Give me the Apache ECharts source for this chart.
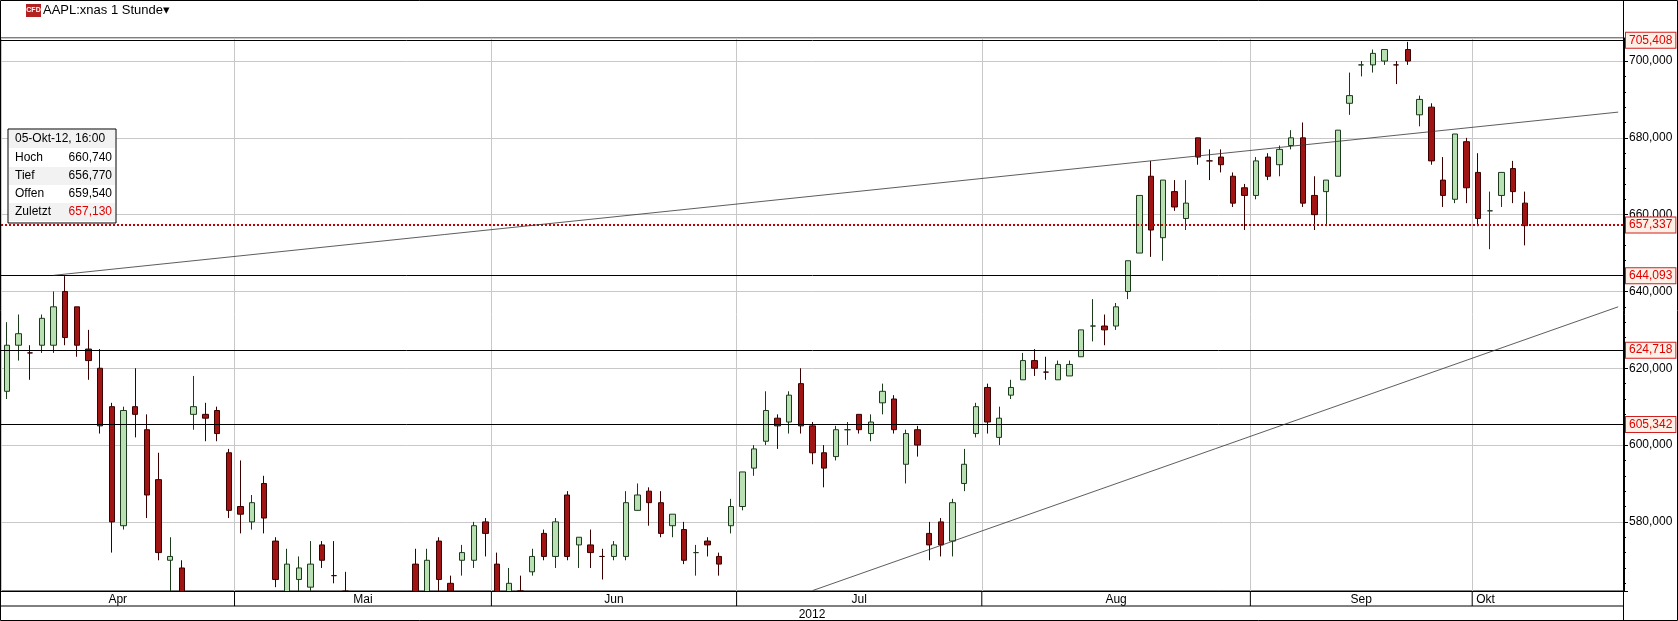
<!DOCTYPE html>
<html>
<head>
<meta charset="utf-8">
<script src="https://cdn.jsdelivr.net/npm/echarts@6/dist/echarts.min.js"></script>
<style>html,body{margin:0;padding:0;background:#fff}#chart{width:1678px;height:621px}</style>
</head>
<body>
<div id="chart"></div>
<script>
// tagesdaten: [open, close, low, high]
var months = ["Apr", "Mai", "Jun", "Jul", "Aug", "Sep", "Okt"];
var monthDays = [20, 22, 21, 21, 23, 19, 5];
var ohlcApr = [[614,626,612,632],[626,629,622,634],[624,624,617,626],[626,633,624,634],[626,636,624,640],
	[640,628,626,644],[636,626,623,636],[625,622,617,630],[620,605,603,625],[610,580,572,611],
	[579,609,578,610],[610,608,602,620],[604,587,581,608],[591,572,570,598],[570,571,556,576],
	[568,560,555,570],[608,610,604,618],[608,607,601,611],[609,603,601,610],[598,583,581,599]];
var ohlcMai = [[584,582,577,596],[580,585,578,587],[590,581,577,592],[575,565,563,576],[561,569,560,573],
	[565,568,555,571],[563,569,557,575],[574,570,568,575],[566,566,564,575],[562,553,552,567],
	[556,553,550,559],[555,546,542,556],[546,530,530,548],[534,530,522,543],[534,561,533,561],
	[569,556,548,573],[557,570,550,573],[575,565,559,576],[564,562,559,566],[570,572,566,574],
	[570,579,568,580],[580,577,571,581]];
var ohlcJun = [[569,560,558,572],[561,564,556,568],[562,562,558,566],[567,571,566,573],[577,571,570,578],
	[571,580,568,581],[587,571,570,588],[574,576,568,576],[574,572,568,578],[571,571,565,573],
	[571,574,570,575],[571,585,570,588],[583,587,583,590],[588,585,579,589],[585,577,576,588],
	[579,582,576,582],[578,570,569,580],[572,572,566,574],[575,574,571,576],[571,569,566,572],
	[579,584,577,586]];
var ohlcJul = [[584,593,583,593],[594,599,592,600],[601,609,600,614],[607,605,599,608],[606,613,603,614],
	[616,605,603,620],[605,598,595,606],[598,594,589,600],[597,604,596,605],[604,604,600,606],
	[608,604,603,608],[603,606,601,608],[611,614,608,616],[612,604,603,613],[595,603,590,604],
	[604,600,597,605],[577,574,570,580],[580,574,571,581],[575,585,571,586],[590,595,588,599],
	[603,610,602,611]];
var ohlcAug = [[615,606,603,616],[602,607,600,610],[613,615,612,617],[617,622,617,624],[622,620,618,625],
	[619,619,617,623],[617,621,617,622],[618,621,618,622],[623,630,623,630],[631,631,627,638],
	[631,630,626,634],[631,636,630,637],[640,648,638,648],[650,665,650,665],[670,656,649,674],
	[654,669,648,669],[666,662,661,669],[659,663,656,669],[680,675,673,680],[674,674,669,677],
	[675,673,671,677],[670,663,662,671],[667,665,656,668]];
var ohlcSep = [[665,674,664,675],[675,670,669,676],[673,677,670,678],[678,680,677,682],[680,663,662,684],
	[665,660,656,670],[666,669,657,669],[670,682,670,682],[689,691,686,697],[699,699,696,700],
	[699,702,697,703],[700,703,699,703],[699,699,694,700],[703,700,699,705],[686,690,683,691],
	[688,674,673,689],[669,665,662,675],[664,681,663,681],[679,667,663,680]];
var ohlcOkt = [[671,659,657,676],[661,661,651,666],[665,671,662,671],[672,666,663,674],[663,657.13,652,666]];
var emptySlots = 8;
var levels = [705.408, 644.093, 624.718, 605.342];
var lastLevel = 657.337;
var trendUpper = [[4.1, 644.2], [138, 686.7]];
var trendLower = [[68.7, 562.1], [138, 636.0]];
var infoRows = [["Hoch", "660,740"], ["Tief", "656,770"], ["Offen", "659,540"], ["Zuletzt", "657,130"]];

var chartPage = {
	monthStartIdx: [],
	fmt: function (v) { return v.toFixed(3).replace('.', ','); },
	build: function () {
		var all = [].concat(ohlcApr, ohlcMai, ohlcJun, ohlcJul, ohlcAug, ohlcSep, ohlcOkt);
		var cats = [], monthStart = {};
		var idx = 0;
		for (var m = 0; m < months.length; m++) {
			monthStart[idx] = true;
			chartPage.monthStartIdx.push(idx);
			for (var d = 0; d < monthDays[m]; d++) { cats.push(String(idx)); idx++; }
		}
		chartPage.monthStartIdx.push(idx);
		for (var e = 0; e < emptySlots; e++) { cats.push(String(idx)); idx++; all.push('-'); }

		var marks = [];
		for (var i = 0; i < levels.length; i++) {
			marks.push({ yAxis: levels[i], lineStyle: { color: '#000', type: 'solid', width: 1 } });
		}
		marks.push({ yAxis: lastLevel, lineStyle: { color: '#c00000', type: 'dotted', width: 2 } });
		marks.push([{ coord: trendUpper[0], label: { show: false }, lineStyle: { color: '#333', width: 0.8, type: 'solid' } }, { coord: trendUpper[1] }]);
		marks.push([{ coord: trendLower[0], label: { show: false }, lineStyle: { color: '#333', width: 0.8, type: 'solid' } }, { coord: trendLower[1] }]);

		return {
			animation: false,
			backgroundColor: '#fff',
			grid: { left: 1, right: 54, top: 38, bottom: 30, show: true, borderColor: '#000', borderWidth: 1 },
			xAxis: {
				type: 'category', data: cats, boundaryGap: true,
				axisLine: { lineStyle: { color: '#000' } },
				axisTick: { show: false },
				axisLabel: { show: false },
				splitLine: { show: true, interval: function (i) { return !!monthStart[i]; }, lineStyle: { color: '#c8c8c8' } }
			},
			yAxis: {
				type: 'value', position: 'right', min: 562, max: 706, splitNumber: 7, scale: true,
				axisLine: { show: true, lineStyle: { color: '#000' } },
				axisTick: { show: true, length: 4, lineStyle: { color: '#000' } },
				minorTick: { show: true, splitNumber: 5, length: 2, lineStyle: { color: '#000' } },
				axisLabel: { color: '#000', fontFamily: 'Arial', fontSize: 12, margin: 5,
					formatter: function (v) { return v % 20 == 0 ? chartPage.fmt(v) : ''; } },
				splitLine: { show: true, lineStyle: { color: '#c8c8c8' } }
			},
			series: [{
				type: 'candlestick', data: all, barWidth: '50%',
				itemStyle: { color: '#b9e0b2', color0: '#a11414', borderColor: '#1c3a1c', borderColor0: '#3a0000', borderWidth: 1 },
				markLine: {
					silent: true, symbol: 'none', animation: false, precision: 3, data: marks,
					label: {
						position: 'end', distance: 2, color: '#e00000', fontFamily: 'Arial', fontSize: 12,
						backgroundColor: '#fdf0e6', borderColor: '#d02020', borderWidth: 1, padding: [2, 3, 1, 3],
						formatter: function (p) { return chartPage.fmt(Number(p.value)); }
					}
				}
			}]
		};
	},
	// band unter dem plot: deckt ueberstehende kerzen ab, monatsnamen und jahr
	decorate: function (chart) {
		var x0 = chart.convertToPixel({ xAxisIndex: 0 }, 0);
		var x1 = chart.convertToPixel({ xAxisIndex: 0 }, 1);
		var slot = x1 - x0;
		var edge = function (i) { return x0 - slot / 2 + i * slot; };
		var g = [
			{ type: 'rect', z: 50, shape: { x: 0, y: 592, width: 1624, height: 29 }, style: { fill: '#fff' } },
			{ type: 'rect', z: 50, shape: { x: 0, y: 0, width: 1624, height: 36 }, style: { fill: '#fff' } },
			{ type: 'line', z: 51, shape: { x1: 0, y1: 591.5, x2: 1624, y2: 591.5 }, style: { stroke: '#000', lineWidth: 1 } },
			{ type: 'line', z: 51, shape: { x1: 0, y1: 606, x2: 1624, y2: 606 }, style: { stroke: '#000', lineWidth: 1 } },
			{ type: 'line', z: 51, shape: { x1: 1623.5, y1: 0, x2: 1623.5, y2: 621 }, style: { stroke: '#000', lineWidth: 1 } },
			{ type: 'rect', z: 51, shape: { x: 0.5, y: 0.5, width: 1677, height: 620 }, style: { fill: 'none', stroke: '#000', lineWidth: 1 } },
			{ type: 'text', z: 52, x: 812, y: 609, style: { text: '2012', font: '12px Arial', fill: '#000', align: 'center' } },
			{ type: 'rect', z: 52, shape: { x: 26, y: 4, width: 15, height: 13 }, style: { fill: '#b22222' } },
			{ type: 'text', z: 53, x: 33.5, y: 7, style: { text: 'CFD', font: 'bold 7px Arial', fill: '#fff', align: 'center' } },
			{ type: 'text', z: 52, x: 43, y: 4, style: { text: 'AAPL:xnas 1 Stunde\u25be', font: '13px Arial', fill: '#000' } }
		];
		var s = chartPage.monthStartIdx;
		for (var m = 0; m < months.length; m++) {
			var a = edge(s[m]), b = edge(s[m + 1]);
			if (m > 0) g.push({ type: 'line', z: 51, shape: { x1: a, y1: 592, x2: a, y2: 606 }, style: { stroke: '#000', lineWidth: 1 } });
			var last = (m == months.length - 1);
			g.push({ type: 'text', z: 52, x: last ? a + 4 : (a + b) / 2, y: 594,
				style: { text: months[m], font: '12px Arial', fill: '#000', align: last ? 'left' : 'center' } });
		}

		var info = [
			{ type: 'rect', shape: { x: 0, y: 0, width: 108, height: 94 }, style: { fill: '#fff', stroke: '#000', lineWidth: 1 } },
			{ type: 'rect', shape: { x: 1, y: 1, width: 106, height: 18 }, style: { fill: '#f2f2f2' } },
			{ type: 'text', x: 7, y: 4, style: { text: '05-Okt-12, 16:00', font: '12px Arial', fill: '#000' } }
		];
		for (var r = 0; r < infoRows.length; r++) {
			var y = 20 + r * 18;
			if (r % 2 == 1) info.push({ type: 'rect', shape: { x: 1, y: y, width: 106, height: 18 }, style: { fill: '#f2f2f2' } });
			info.push({ type: 'text', x: 7, y: y + 3, style: { text: infoRows[r][0], font: '12px Arial', fill: '#000' } });
			info.push({ type: 'text', x: 104, y: y + 3, style: { text: infoRows[r][1], font: '12px Arial', fill: r == 3 ? '#e00000' : '#000', align: 'right' } });
		}
		g.push({ type: 'group', z: 60, x: 8, y: 129, children: info });
		chart.setOption({ graphic: g });
	}
};
var myChart = echarts.init(document.getElementById('chart'));
myChart.setOption(chartPage.build());
chartPage.decorate(myChart);
</script>
</body>
</html>
